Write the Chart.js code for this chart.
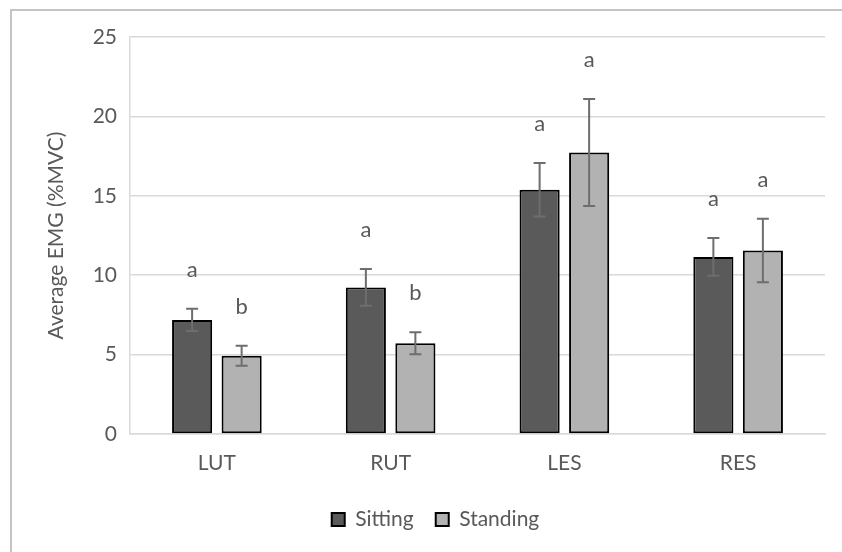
<!DOCTYPE html>
<html>
<head>
<meta charset="utf-8">
<script src="https://cdn.jsdelivr.net/npm/chart.js@4/dist/chart.umd.min.js"></script>
<style>
  html, body { margin: 0; padding: 0; background: #ffffff; }
  #wrap { width: 842px; height: 552px; position: relative; }
</style>
</head>
<body>
<div id="wrap"><canvas id="chart" width="842" height="552"></canvas></div>
<script>
// Muscle sites on the x axis
const muscles = ['LUT', 'RUT', 'LES', 'RES'];

// Mean EMG (%MVC) and error (±) for each posture
const sittingMean = [7.18, 9.23, 15.38, 11.15];
const sittingErr = [0.70, 1.16, 1.69, 1.19];
const standingMean = [4.93, 5.71, 17.73, 11.56];
const standingErr = [0.63, 0.69, 3.37, 2.00];

// Significance group letters shown above each bar
const sittingGroup = ['a', 'a', 'a', 'a'];
const standingGroup = ['b', 'b', 'a', 'a'];

// Y axis tick values
const yTicks = [0, 5, 10, 15, 20, 25];

const FONT = 'Lato';
const TEXT = '#595959';
const SIZE = 21;

// White background and the light outer frame
const framePlugin = {
  id: 'frame',
  beforeDraw(chart) {
    const { ctx, width, height } = chart;
    ctx.save();
    ctx.fillStyle = '#ffffff';
    ctx.fillRect(0, 0, width, height);
    ctx.strokeStyle = '#c4c4c4';
    ctx.lineWidth = 2;
    ctx.strokeRect(11, 10, width + 20, height + 20);
    ctx.restore();
  },
  afterLayout(chart) {
    // nudge the legend so it sits centred under the whole frame
    const lg = chart.legend;
    if (lg) { lg.left += 18; lg.right += 18; }
  }
};

// Error bars with caps, plus the group letter above each one
const errorBarPlugin = {
  id: 'errorBars',
  afterDatasetsDraw(chart) {
    const { ctx } = chart;
    const y = chart.scales.y;
    chart.data.datasets.forEach((ds, i) => {
      const meta = chart.getDatasetMeta(i);
      meta.data.forEach((bar, j) => {
        const v = ds.data[j];
        const e = ds.errorBars[j];
        const top = y.getPixelForValue(v + e);
        const bot = y.getPixelForValue(v - e);
        ctx.save();
        ctx.strokeStyle = '#6e6e6e';
        ctx.lineWidth = 2;
        ctx.beginPath();
        ctx.moveTo(bar.x, top); ctx.lineTo(bar.x, bot);
        ctx.moveTo(bar.x - 6, top); ctx.lineTo(bar.x + 6, top);
        ctx.moveTo(bar.x - 6, bot); ctx.lineTo(bar.x + 6, bot);
        ctx.stroke();
        ctx.fillStyle = TEXT;
        ctx.font = '22px ' + FONT;
        ctx.textAlign = 'center';
        ctx.textBaseline = 'alphabetic';
        ctx.fillText(ds.groups[j], bar.x, top - 32);
        ctx.restore();
      });
    });
  }
};

new Chart(document.getElementById('chart'), {
  type: 'bar',
  data: {
    labels: muscles,
    datasets: [
      {
        label: 'Sitting',
        data: sittingMean,
        errorBars: sittingErr,
        groups: sittingGroup,
        backgroundColor: '#5a5a5a',
        borderColor: '#000000',
        borderWidth: 2,
        borderSkipped: false,
        categoryPercentage: 0.57,
        barPercentage: 0.81
      },
      {
        label: 'Standing',
        data: standingMean,
        errorBars: standingErr,
        groups: standingGroup,
        backgroundColor: '#b2b2b2',
        borderColor: '#000000',
        borderWidth: 2,
        borderSkipped: false,
        categoryPercentage: 0.57,
        barPercentage: 0.81
      }
    ]
  },
  options: {
    responsive: false,
    animation: false,
    devicePixelRatio: 1,
    layout: { padding: { left: 10, top: 37, right: 17, bottom: 15 } },
    scales: {
      x: {
        grid: { drawOnChartArea: false, drawTicks: false },
        border: { display: true, color: '#d9d9d9', width: 1.5 },
        ticks: { color: TEXT, font: { family: FONT, size: SIZE }, padding: 17 },
        afterFit(s) { s.height = 53; }
      },
      y: {
        min: 0,
        max: 25,
        afterBuildTicks(s) { s.ticks = yTicks.map(v => ({ value: v })); },
        grid: { color: '#d9d9d9', lineWidth: 1.5, drawTicks: false },
        border: { display: true, color: '#d9d9d9', width: 1.5 },
        ticks: { color: TEXT, font: { family: FONT, size: SIZE }, padding: 13 },
        title: {
          display: true,
          text: 'Average EMG (%MVC)',
          color: TEXT,
          font: { family: FONT, size: SIZE },
          padding: { top: 34, bottom: 0 }
        },
        afterFit(s) { s.width = 120; }
      }
    },
    plugins: {
      legend: {
        position: 'bottom',
        maxHeight: 50,
        labels: {
          color: TEXT,
          font: { family: FONT, size: SIZE },
          boxWidth: 13,
          boxHeight: 13,
          padding: 22
        }
      },
      tooltip: { enabled: false }
    }
  },
  plugins: [framePlugin, errorBarPlugin]
});
</script>
</body>
</html>
